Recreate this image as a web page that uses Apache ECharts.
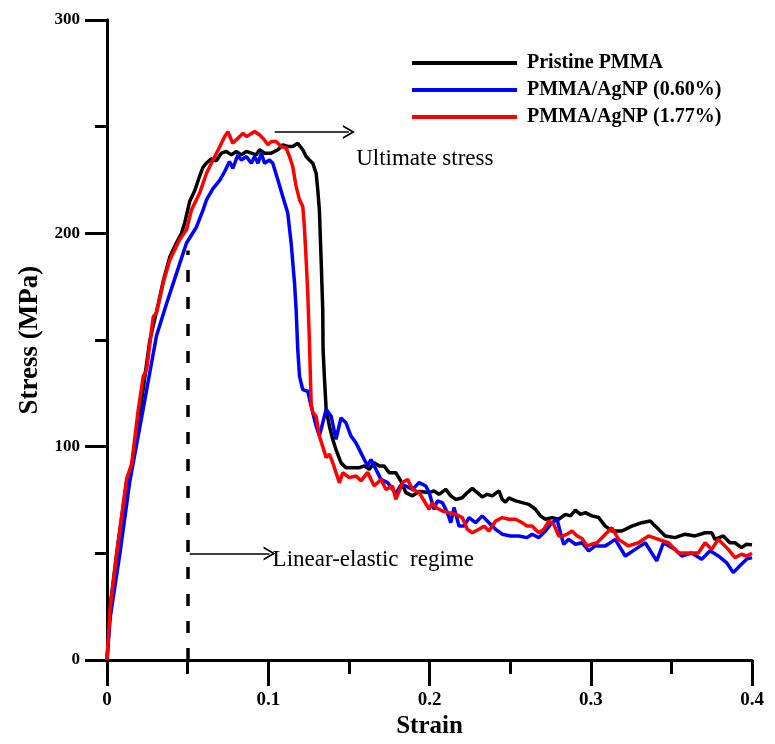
<!DOCTYPE html>
<html>
<head>
<meta charset="utf-8">
<script src="https://cdn.jsdelivr.net/npm/echarts@6/dist/echarts.min.js"></script>
<style>
  html, body { margin: 0; padding: 0; background: #fff; }
  #chart { width: 775px; height: 744px; }
</style>
</head>
<body>
<div id="chart"></div>
<script>
// series names
const seriesNames = ['Pristine PMMA', 'PMMA/AgNP (0.60%)', 'PMMA/AgNP (1.77%)'];

// Pristine PMMA
const pristineStrain = [0, 0.002, 0.006, 0.0122, 0.0153, 0.0215, 0.0266, 0.0318, 0.035, 0.039, 0.043, 0.0462, 0.0482, 0.0513, 0.0544, 0.0575, 0.0596, 0.0617, 0.0647, 0.0678, 0.0709, 0.074, 0.0771, 0.0802, 0.0833, 0.0864, 0.0895, 0.0926, 0.0946, 0.0977, 0.1018, 0.106, 0.109, 0.1121, 0.1152, 0.1183, 0.1194, 0.1214, 0.1235, 0.1255, 0.1276, 0.1297, 0.1307, 0.1317, 0.1328, 0.1338, 0.134, 0.1348, 0.1359, 0.1379, 0.14, 0.142, 0.1451, 0.1482, 0.1523, 0.1565, 0.1596, 0.1626, 0.1657, 0.1688, 0.1719, 0.175, 0.1791, 0.1822, 0.1853, 0.1895, 0.1936, 0.1998, 0.2028, 0.2059, 0.2101, 0.2132, 0.2163, 0.2203, 0.2235, 0.2265, 0.2296, 0.2327, 0.2358, 0.2389, 0.2431, 0.2451, 0.2472, 0.2492, 0.2534, 0.2575, 0.2616, 0.2657, 0.2688, 0.2719, 0.276, 0.2801, 0.2843, 0.2874, 0.2905, 0.2936, 0.2967, 0.3007, 0.3049, 0.309, 0.3131, 0.3193, 0.3255, 0.3317, 0.3369, 0.34, 0.3462, 0.3523, 0.3585, 0.3647, 0.3709, 0.375, 0.3771, 0.3822, 0.3863, 0.3894, 0.3935, 0.3966, 0.4];
const pristineStress = [0, 25, 50, 84, 91, 122, 150, 167, 178, 189, 195.5, 200, 205, 215, 220, 227, 231, 233, 235, 234, 237.6, 238.4, 236.8, 238.4, 236.8, 238.4, 237.6, 236.8, 239.2, 237.6, 237.6, 239.2, 241.5, 240.7, 240.7, 242.2, 243, 239.2, 236, 234.4, 232.9, 228.2, 220.4, 211, 187.6, 164, 145.5, 133, 117.5, 109.7, 103.4, 98.7, 92.5, 90.2, 90.2, 90.2, 91, 89.4, 92.5, 91, 91, 87.8, 87.8, 84, 78.5, 77, 79, 78.5, 79.3, 77.7, 80, 77, 75.3, 76.1, 78.5, 80.5, 78.5, 76.5, 77.7, 77, 79.3, 75.3, 74, 76, 74.6, 73.8, 73, 70.7, 67.6, 66, 66.8, 66, 68.3, 67.6, 70.3, 68.3, 69.1, 67.6, 66.8, 62.8, 60.5, 60.5, 62.8, 64.4, 65.2, 62.8, 58.2, 57.4, 59, 58.2, 59.7, 59.7, 56.6, 58.2, 55, 55, 52.7, 54.3, 54];

// PMMA/AgNP (0.60%)
const agnp060Strain = [0, 0.002, 0.008, 0.0142, 0.0225, 0.0266, 0.0307, 0.0369, 0.043, 0.0493, 0.0555, 0.0596, 0.0617, 0.0657, 0.07, 0.073, 0.076, 0.078, 0.0812, 0.0833, 0.0864, 0.0895, 0.0915, 0.0936, 0.0957, 0.0977, 0.1008, 0.1028, 0.106, 0.109, 0.1121, 0.1142, 0.1163, 0.1173, 0.1183, 0.1194, 0.1214, 0.1245, 0.1266, 0.1297, 0.1317, 0.1338, 0.1359, 0.139, 0.142, 0.1451, 0.1482, 0.1513, 0.1544, 0.1585, 0.1616, 0.1637, 0.1668, 0.1699, 0.174, 0.1791, 0.1822, 0.1853, 0.1895, 0.1936, 0.1977, 0.1998, 0.2028, 0.2049, 0.208, 0.2111, 0.2132, 0.2152, 0.2183, 0.2214, 0.2245, 0.2286, 0.2327, 0.2369, 0.241, 0.2451, 0.2503, 0.2554, 0.2605, 0.2636, 0.2678, 0.2719, 0.276, 0.2791, 0.2812, 0.2832, 0.2863, 0.2905, 0.2946, 0.2987, 0.3028, 0.309, 0.3152, 0.3214, 0.3276, 0.3338, 0.3409, 0.3451, 0.3523, 0.3564, 0.3626, 0.3688, 0.374, 0.3791, 0.3842, 0.3884, 0.3925, 0.3966, 0.4];
const agnp060Stress = [0, 20, 50, 84, 118, 135, 152, 167, 181, 195.5, 203, 211, 215.7, 221, 225, 229, 233.7, 230.5, 236.8, 234.4, 236, 232.9, 236, 232.9, 237.6, 232.9, 234.4, 232.9, 225, 217.3, 209.5, 195.5, 176.7, 164, 145.5, 133, 126.8, 126, 119, 109.7, 105, 111.2, 117.5, 114.3, 103.4, 113.5, 111.2, 105, 101.8, 95.6, 91, 94, 89.4, 84.7, 83.2, 78, 82, 81.6, 80, 83.2, 81.6, 78.5, 70.7, 74.6, 73.8, 69.1, 64.4, 71.5, 62.8, 62.8, 66.8, 64.4, 67.6, 64.4, 61.3, 59, 58.2, 58.2, 57.4, 59, 57.4, 60.5, 64.4, 66, 59.7, 54.3, 56.6, 54.3, 55, 51.2, 53.5, 53.5, 56.6, 48.8, 51.9, 55, 46.5, 55, 51.9, 48.8, 50.2, 47.3, 51.2, 48.8, 45.7, 41, 44.2, 47.3, 48];

// PMMA/AgNP (1.77%)
const agnp177Strain = [0, 0.002, 0.006, 0.0122, 0.0153, 0.0194, 0.0225, 0.0245, 0.0287, 0.0307, 0.0348, 0.039, 0.045, 0.0493, 0.0524, 0.0575, 0.0617, 0.0657, 0.07, 0.073, 0.075, 0.078, 0.0812, 0.0843, 0.0864, 0.0884, 0.0915, 0.0946, 0.0977, 0.0998, 0.1018, 0.1049, 0.108, 0.1111, 0.1132, 0.1152, 0.1173, 0.1194, 0.1214, 0.1224, 0.1235, 0.1245, 0.1255, 0.1266, 0.1276, 0.1297, 0.1317, 0.1359, 0.1379, 0.14, 0.1441, 0.1462, 0.1503, 0.1544, 0.1575, 0.1616, 0.1657, 0.1699, 0.173, 0.1771, 0.1791, 0.1833, 0.1864, 0.1895, 0.1936, 0.1998, 0.2018, 0.2039, 0.208, 0.2121, 0.2163, 0.2203, 0.2235, 0.2265, 0.2307, 0.2338, 0.2369, 0.241, 0.2451, 0.2492, 0.2534, 0.2575, 0.2605, 0.2636, 0.2678, 0.2709, 0.274, 0.2771, 0.2801, 0.2822, 0.2853, 0.2884, 0.2915, 0.2946, 0.2977, 0.3007, 0.3039, 0.3131, 0.3173, 0.3234, 0.3296, 0.3358, 0.342, 0.3482, 0.3544, 0.3605, 0.3667, 0.3709, 0.375, 0.3791, 0.3853, 0.3894, 0.3935, 0.3966, 0.4];
const agnp177Stress = [0, 25, 50, 85, 92, 117.5, 133, 136, 161, 162.7, 176.7, 187.6, 197, 201.7, 211, 219, 228.2, 234.4, 240.7, 245.4, 247.7, 242.2, 244.6, 246.9, 245.4, 246.2, 247.7, 246.2, 243.8, 241.5, 243, 243, 240.7, 240, 236, 231.3, 222, 215.7, 212.6, 203.2, 187.6, 172, 150, 120, 116, 114.3, 105, 95, 96.5, 92.5, 83.2, 87.8, 85.5, 86.3, 84, 88, 81.6, 84.7, 80, 81.6, 75.3, 83.2, 84.7, 80, 78.5, 70.7, 73.8, 71.5, 69.9, 69.1, 68.3, 66.8, 61.3, 59.7, 61.3, 62.8, 60.5, 65.2, 66.8, 66, 66, 64.4, 62.8, 62.8, 59.7, 61.3, 65.2, 63.6, 58.2, 58, 59, 60.5, 58.2, 57, 53.5, 54.3, 55, 62, 56.6, 53.5, 55, 58.2, 56.6, 55, 50.2, 50.2, 50.2, 55, 51.9, 56.6, 51.9, 48, 49.6, 48.8, 50];

const seriesColors = ['#000000', '#0000ff', '#ff0000'];
const xTicks = [0, 0.1, 0.2, 0.3, 0.4];
const yTicks = [0, 100, 200, 300];

const serif = '"Liberation Serif", "Times New Roman", serif';
const zip = (xs, ys) => xs.map((x, i) => [x, ys[i]]);

// open arrow head
const arrowHead = 'path://M0,10 L5,0 L10,10 L8.6,10 L5,2.8 L1.4,10 Z';

const chart = echarts.init(document.getElementById('chart'), null, { renderer: 'canvas' });

const axisCommon = {
  axisLine: { show: true, onZero: false, lineStyle: { color: '#000', width: 3 } },
  splitLine: { show: false },
  axisLabel: { color: '#000', fontFamily: serif, fontWeight: 'bold', fontSize: 17 },
};

const makeLine = (i, xs, ys, extra) => Object.assign({
  name: seriesNames[i],
  type: 'line',
  data: zip(xs, ys),
  showSymbol: false,
  symbol: 'none',
  lineStyle: { color: seriesColors[i], width: 3.5 },
  itemStyle: { color: seriesColors[i] },
  animation: false,
  z: 2 + i,
}, extra || {});

const option = {
  backgroundColor: '#fff',
  animation: false,
  grid: { left: 107, right: 23, top: 20, bottom: 83, containLabel: false },
  legend: {
    orient: 'vertical',
    left: 407,
    top: 48,
    itemWidth: 105,
    itemHeight: 4,
    itemGap: 7,
    icon: 'rect',
    data: seriesNames,
    textStyle: {
      color: '#000', fontFamily: serif, fontWeight: 'bold', fontSize: 20,
      lineHeight: 20, padding: [0, 0, 0, 5],
    },
  },
  xAxis: Object.assign({}, axisCommon, {
    type: 'value',
    min: xTicks[0],
    max: xTicks[xTicks.length - 1],
    interval: 0.1,
    name: 'Strain',
    nameLocation: 'middle',
    nameGap: 50,
    nameTextStyle: { color: '#000', fontFamily: serif, fontWeight: 'bold', fontSize: 25 },
    axisTick: { show: true, inside: false, length: 26, lineStyle: { color: '#000', width: 3 } },
    minorTick: { show: true, splitNumber: 2, length: 14, lineStyle: { color: '#000', width: 3 } },
    axisLabel: Object.assign({}, axisCommon.axisLabel, {
      fontSize: 19,
      margin: 30,
      formatter: v => (v === 0 ? '0' : String(+v.toFixed(1))),
    }),
  }),
  yAxis: [
    Object.assign({}, axisCommon, {
      type: 'value',
      min: yTicks[0],
      max: yTicks[yTicks.length - 1],
      interval: 100,
      name: 'Stress (MPa)',
      nameLocation: 'middle',
      nameGap: 63,
      nameTextStyle: { color: '#000', fontFamily: serif, fontWeight: 'bold', fontSize: 27 },
      axisTick: { show: true, inside: false, length: 22, lineStyle: { color: '#000', width: 3 } },
      minorTick: { show: true, splitNumber: 2, length: 12, lineStyle: { color: '#000', width: 3 } },
      axisLabel: Object.assign({}, axisCommon.axisLabel, { margin: 27 }),
    }),
    {
      // right frame
      type: 'value',
      position: 'right',
      min: yTicks[0],
      max: yTicks[yTicks.length - 1],
      axisLine: { show: true, lineStyle: { color: '#000', width: 3 } },
      axisTick: { show: false },
      axisLabel: { show: false },
      splitLine: { show: false },
    },
  ],
  series: [
    makeLine(0, pristineStrain, pristineStress, {
      markLine: {
        silent: true,
        animation: false,
        label: { show: false },
        data: [
          // linear-elastic limit
          [
            { coord: [0.05, 0], symbol: 'none' },
            { coord: [0.05, 192], symbol: 'none' },
          ],
        ],
        lineStyle: { color: '#000', width: 3.5, type: [12, 15] },
      },
    }),
    makeLine(1, agnp060Strain, agnp060Stress),
    makeLine(2, agnp177Strain, agnp177Stress, {
      markLine: {
        silent: true,
        animation: false,
        label: { show: false },
        symbol: ['none', arrowHead],
        symbolSize: [14, 12],
        lineStyle: { color: '#000', width: 1.5, type: 'solid' },
        data: [
          [{ coord: [0.104, 247.5] }, { coord: [0.150, 247.5] }],
          [{ coord: [0.0513, 50] }, { coord: [0.1008, 50] }],
        ],
      },
      markPoint: {
        silent: true,
        animation: false,
        symbol: 'circle',
        symbolSize: 0,
        label: {
          show: true,
          position: 'right',
          distance: 0,
          color: '#000',
          fontFamily: serif,
          fontSize: 23,
          formatter: p => p.name,
        },
        data: [
          { name: 'Ultimate stress', coord: [0.1545, 235] },
          { name: 'Linear-elastic  regime', coord: [0.1027, 47] },
        ],
      },
    }),
  ],
};

chart.setOption(option);
</script>
</body>
</html>
